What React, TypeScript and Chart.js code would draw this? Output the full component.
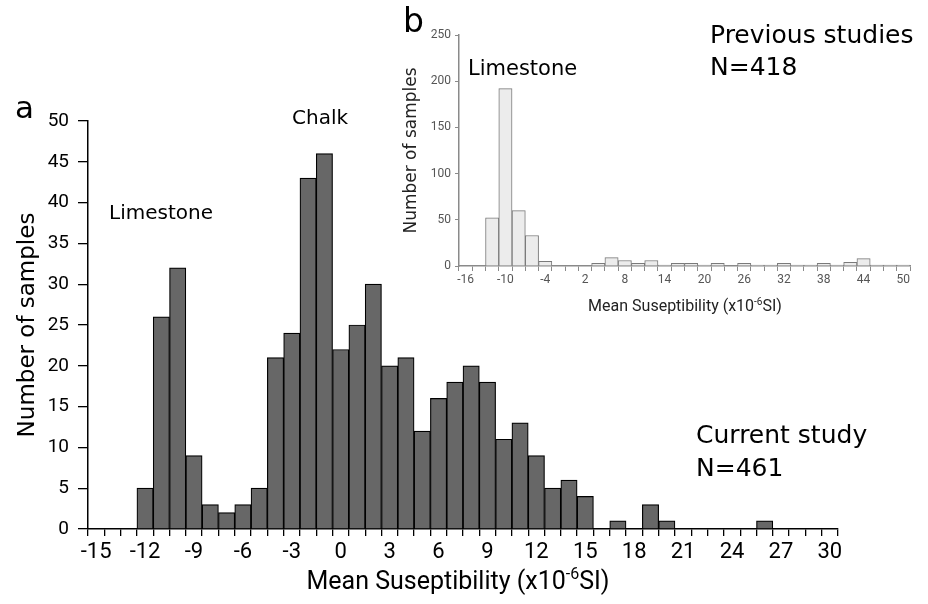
import { useEffect, useRef } from 'react';
import { Chart, registerables } from 'chart.js';

Chart.register(...registerables);

// ---------- Main histogram (a) : current study ----------
const mainCategories = [
  '-15', '-14', '-13', '-12', '-11', '-10', '-9', '-8', '-7', '-6', '-5', '-4', '-3', '-2', '-1',
  '0', '1', '2', '3', '4', '5', '6', '7', '8', '9', '10', '11', '12', '13', '14', '15',
  '16', '17', '18', '19', '20', '21', '22', '23', '24', '25', '26', '27', '28', '29', '30',
];
const mainCounts = [
  0, 0, 0, 5, 26, 32, 9, 3, 2, 3, 5, 21, 24, 43, 46,
  22, 25, 30, 20, 21, 12, 16, 18, 20, 18, 11, 13, 9, 5, 6, 4,
  0, 1, 0, 3, 1, 0, 0, 0, 0, 0, 1, 0, 0, 0, 0,
];
const mainShownTicks = ['-15', '-12', '-9', '-6', '-3', '0', '3', '6', '9', '12', '15', '18', '21', '24', '27', '30'];
const mainYMin = 0;
const mainYMax = 50;
const mainYStep = 5;

// ---------- Inset histogram (b) : previous studies ----------
const insetCategories = [
  '-16', '-14', '-12', '-10', '-8', '-6', '-4', '-2', '0', '2', '4', '6', '8', '10', '12', '14', '16',
  '18', '20', '22', '24', '26', '28', '30', '32', '34', '36', '38', '40', '42', '44', '46', '48', '50',
];
const insetCounts = [
  0, 0, 52, 192, 60, 33, 5, 0, 0, 0, 3, 9, 6, 3, 6, 1, 3,
  3, 1, 3, 0, 3, 1, 1, 3, 1, 1, 3, 1, 4, 8, 1, 1, 1,
];
const insetShownTicks = ['-16', '-10', '-4', '2', '8', '14', '20', '26', '32', '38', '44', '50'];
const insetYMin = 0;
const insetYMax = 250;
const insetYStep = 50;

type TextItem = { text: string; x: number; y: number; font: string; align?: CanvasTextAlign; color?: string };

function makeTextPlugin(id: string, items: TextItem[], title: { cx: number; y: number; size: number; family: string; color: string }) {
  return {
    id,
    afterDraw(chart: any) {
      const ctx: CanvasRenderingContext2D = chart.ctx;
      ctx.save();
      ctx.textBaseline = 'alphabetic';
      for (const it of items) {
        ctx.font = it.font;
        ctx.fillStyle = it.color || '#000';
        ctx.textAlign = it.align || 'left';
        ctx.fillText(it.text, it.x, it.y);
      }
      // axis title with superscript
      const big = `${title.size}px ${title.family}`;
      const small = `${Math.round(title.size * 0.62)}px ${title.family}`;
      const p1 = 'Mean Suseptibility (x10';
      const p2 = '-6';
      const p3 = 'SI)';
      ctx.font = big;
      const w1 = ctx.measureText(p1).width;
      const w3 = ctx.measureText(p3).width;
      ctx.font = small;
      const w2 = ctx.measureText(p2).width;
      const total = w1 + w2 + w3;
      let x = title.cx - total / 2;
      ctx.textAlign = 'left';
      ctx.fillStyle = title.color;
      ctx.font = big;
      ctx.fillText(p1, x, title.y);
      x += w1;
      ctx.font = small;
      ctx.fillText(p2, x, title.y - title.size * 0.4);
      x += w2;
      ctx.font = big;
      ctx.fillText(p3, x, title.y);
      ctx.restore();
    },
  };
}

const INSET_LEFT = 395;

export default function App() {
  const mainRef = useRef<HTMLCanvasElement | null>(null);
  const insetRef = useRef<HTMLCanvasElement | null>(null);

  useEffect(() => {
    if (!mainRef.current || !insetRef.current) return;

    const mainTexts: TextItem[] = [
      { text: 'a', x: 15, y: 118, font: '31px "DejaVu Sans"' },
      { text: 'Limestone', x: 109, y: 219, font: '20px "DejaVu Sans"' },
      { text: 'Chalk', x: 292, y: 124, font: '20px "DejaVu Sans"' },
      { text: 'Current study', x: 696, y: 443, font: '25px "DejaVu Sans"' },
      { text: 'N=461', x: 696, y: 476, font: '25px "DejaVu Sans"' },
    ];

    const mainChart = new Chart(mainRef.current, {
      type: 'bar',
      data: {
        labels: mainCategories,
        datasets: [
          {
            data: mainCounts,
            backgroundColor: '#676767',
            borderColor: '#000000',
            borderWidth: 1.2,
            categoryPercentage: 1,
            barPercentage: 1,
          },
        ],
      },
      options: {
        animation: false,
        responsive: false,
        maintainAspectRatio: false,
        layout: { padding: { left: 0, right: 90, top: 121, bottom: 0 } },
        plugins: { legend: { display: false }, tooltip: { enabled: false } },
        scales: {
          x: {
            offset: true,
            grid: { offset: true, drawOnChartArea: false, drawTicks: true, tickLength: 7, color: '#000', lineWidth: 1.3 },
            border: { display: true, color: '#000', width: 1.5 },
            ticks: {
              autoSkip: false,
              maxRotation: 0,
              minRotation: 0,
              padding: 3,
              color: '#000',
              font: { family: 'Roboto', size: 22 },
              callback: function (this: any, v: any) {
                const l = this.getLabelForValue(v);
                return mainShownTicks.includes(l) ? l : '';
              },
            },
            afterFit: (s: any) => {
              s.height = 75;
            },
          },
          y: {
            min: mainYMin,
            max: mainYMax,
            ticks: { stepSize: mainYStep, padding: 9, color: '#000', font: { family: 'Roboto', size: 19 } },
            grid: { drawOnChartArea: false, drawTicks: true, tickLength: 10, color: '#000', lineWidth: 1.3 },
            border: { display: true, color: '#000', width: 1.5 },
            title: {
              display: true,
              text: 'Number of samples',
              color: '#000',
              font: { family: 'DejaVu Sans', size: 23 },
              padding: { top: 14, bottom: 0 },
            },
            afterFit: (s: any) => {
              s.width = 88;
            },
          },
        },
      },
      plugins: [makeTextPlugin('mainTexts', mainTexts, { cx: 458, y: 589, size: 25, family: 'Roboto', color: '#000' })],
    } as any);

    const insetTexts: TextItem[] = [
      { text: 'b', x: 403 - INSET_LEFT, y: 32, font: '33px "DejaVu Sans"' },
      { text: 'Previous studies', x: 710 - INSET_LEFT, y: 43, font: '25px "DejaVu Sans"' },
      { text: 'N=418', x: 710 - INSET_LEFT, y: 75, font: '25px "DejaVu Sans"' },
      { text: 'Limestone', x: 468 - INSET_LEFT, y: 75, font: '21px "DejaVu Sans"' },
    ];

    const insetChart = new Chart(insetRef.current, {
      type: 'bar',
      data: {
        labels: insetCategories,
        datasets: [
          {
            data: insetCounts,
            backgroundColor: '#ececec',
            borderColor: '#7a7a7a',
            borderWidth: 1,
            categoryPercentage: 1,
            barPercentage: 1,
          },
        ],
      },
      options: {
        animation: false,
        responsive: false,
        maintainAspectRatio: false,
        layout: { padding: { left: 0, right: 18, top: 35, bottom: 0 } },
        plugins: { legend: { display: false }, tooltip: { enabled: false } },
        scales: {
          x: {
            offset: true,
            grid: { offset: true, drawOnChartArea: false, drawTicks: true, tickLength: 5, color: '#8a8a8a', lineWidth: 1 },
            border: { display: true, color: '#8a8a8a', width: 1.5 },
            ticks: {
              autoSkip: false,
              maxRotation: 0,
              minRotation: 0,
              padding: 2,
              color: '#555',
              font: { family: 'Roboto', size: 12 },
              callback: function (this: any, v: any) {
                const l = this.getLabelForValue(v);
                return insetShownTicks.includes(l) ? l : '';
              },
            },
            afterFit: (s: any) => {
              s.height = 54;
            },
          },
          y: {
            min: insetYMin,
            max: insetYMax,
            ticks: { stepSize: insetYStep, padding: 4, color: '#555', font: { family: 'Roboto', size: 12 } },
            grid: { drawOnChartArea: false, drawTicks: true, tickLength: 4, color: '#8a8a8a', lineWidth: 1 },
            border: { display: true, color: '#8a8a8a', width: 1.5 },
            title: {
              display: true,
              text: 'Number of samples',
              color: '#222',
              font: { family: 'DejaVu Sans', size: 17 },
              padding: { top: 6, bottom: 0 },
            },
            afterFit: (s: any) => {
              s.width = 64;
            },
          },
        },
      },
      plugins: [makeTextPlugin('insetTexts', insetTexts, { cx: 685 - INSET_LEFT, y: 311, size: 16, family: 'Roboto', color: '#222' })],
    } as any);

    return () => {
      mainChart.destroy();
      insetChart.destroy();
    };
  }, []);

  return (
    <div style={{ position: 'absolute', left: 0, top: 0, width: 928, height: 604, background: '#fff' }}>
      <canvas ref={mainRef} width={928} height={604} style={{ position: 'absolute', left: 0, top: 0, width: 928, height: 604 }} />
      <canvas
        ref={insetRef}
        width={533}
        height={320}
        style={{ position: 'absolute', left: INSET_LEFT, top: 0, width: 533, height: 320 }}
      />
    </div>
  );
}
